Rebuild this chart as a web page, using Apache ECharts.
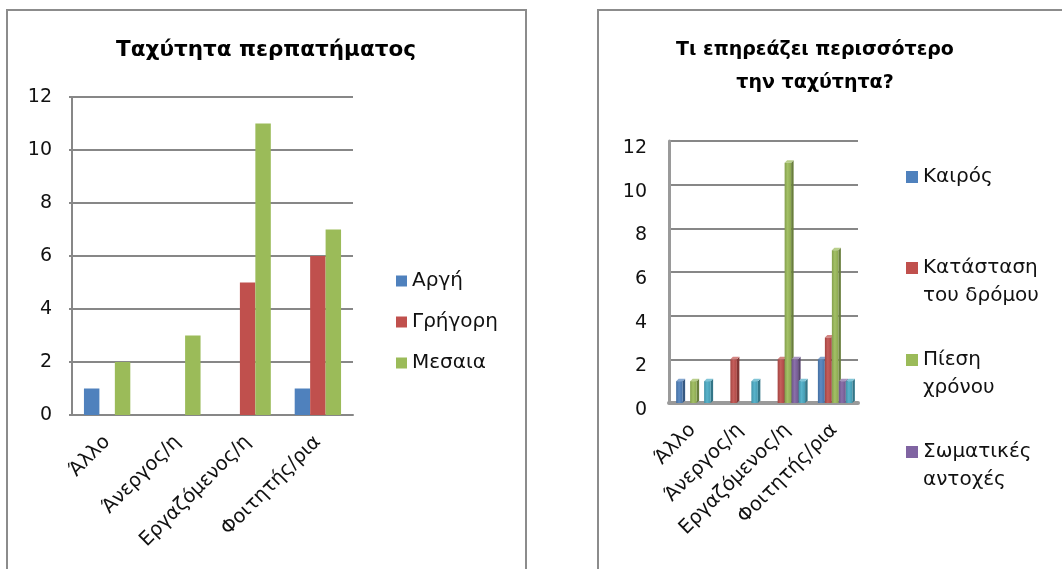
<!DOCTYPE html>
<html>
<head>
<meta charset="utf-8">
<script src="https://cdn.jsdelivr.net/npm/echarts@6/dist/echarts.min.js"></script>
<style>
  html, body { margin: 0; padding: 0; background: #ffffff; }
  #chart { width: 1062px; height: 569px; }
</style>
</head>
<body>
<div id="chart"></div>
<script>
// Occupation groups shared by both charts
const categories = ['Άλλο', 'Άνεργος/η', 'Εργαζόμενος/η', 'Φοιτητής/ρια'];

// Walking speed per group
const speedNames = ['Αργή', 'Γρήγορη', 'Μεσαια'];
const slowValues = [1, 0, 0, 1];
const fastValues = [0, 0, 5, 6];
const mediumValues = [2, 3, 11, 7];

// What affects the speed most, per group
const factorNames = ['Καιρός', 'Κατάσταση του δρόμου', 'Πίεση χρόνου', 'Σωματικές αντοχές', 'Άλλο'];
const factorLegendLines = [['Καιρός'], ['Κατάσταση', 'του δρόμου'], ['Πίεση', 'χρόνου'], ['Σωματικές', 'αντοχές']];
const weatherValues = [1, 0, 0, 2];
const roadValues = [0, 2, 2, 3];
const timeValues = [1, 0, 11, 7];
const staminaValues = [0, 0, 2, 1];
const otherValues = [1, 1, 1, 1];

// Value axis ticks
const yMin = 0, yMax = 12, yStep = 2;

const FONT = 'DejaVu Sans';
const GRID_GREY = '#878787';
const colors = ['#4F81BD', '#C0504D', '#9BBB59', '#8064A2', '#4BACC6'];

function shade(hex, f) {
  const n = parseInt(hex.slice(1), 16);
  const ch = [(n >> 16) & 255, (n >> 8) & 255, n & 255].map(c =>
    Math.max(0, Math.min(255, Math.round(f < 1 ? c * f : c + (255 - c) * (f - 1)))));
  return 'rgb(' + ch.join(',') + ')';
}

// Column with a small depth face, placed in its slot within the category band
function column3D(slotIndex, slotCount, color) {
  return function (params, api) {
    const c = api.value(0);
    const v = api.value(1);
    if (!v) return null;
    const base = api.coord([c, 0]);
    const top = api.coord([c, v]);
    const band = api.size([1, 0])[0];
    const slot = band * 0.148;
    const x = base[0] - slot * slotCount / 2 + slotIndex * slot + 1;
    const w = slot - 0.5;
    const d = 2.5;
    return {
      type: 'group',
      children: [
        {
          type: 'polygon',
          shape: { points: [[x + w, top[1]], [x + w + d, top[1] - d], [x + w + d, base[1] - d], [x + w, base[1]]] },
          style: { fill: shade(color, 0.68) }
        },
        {
          type: 'polygon',
          shape: { points: [[x, top[1]], [x + d, top[1] - d], [x + w + d, top[1] - d], [x + w, top[1]]] },
          style: { fill: shade(color, 1.3) }
        },
        {
          type: 'rect',
          shape: { x: x, y: top[1], width: w, height: base[1] - top[1] },
          style: {
            fill: new echarts.graphic.LinearGradient(0, 0, 1, 0, [
              { offset: 0, color: shade(color, 0.85) },
              { offset: 0.45, color: shade(color, 1.08) },
              { offset: 1, color: shade(color, 0.9) }
            ])
          }
        }
      ]
    };
  };
}

// Legend text: the first line sits level with the colour key, the rest wraps below it
function legendText(name) {
  const lines = factorLegendLines[factorNames.indexOf(name)];
  const pad = [];
  for (let i = 1; i < lines.length; i++) pad.push('');
  return pad.concat(lines).join('\n');
}

const chart = echarts.init(document.getElementById('chart'), null, { renderer: 'canvas' });

const factorValues = [weatherValues, roadValues, timeValues, staminaValues, otherValues];

const option = {
  animation: false,
  backgroundColor: '#ffffff',
  textStyle: { fontFamily: FONT },
  title: [
    {
      text: 'Ταχύτητα περπατήματος',
      left: 266, top: 34, padding: 0, textAlign: 'center',
      textStyle: { fontFamily: FONT, fontSize: 21.5, fontWeight: 'bold', color: '#000', lineHeight: 33 }
    },
    {
      text: 'Τι επηρεάζει περισσότερο\nτην ταχύτητα?',
      left: 815, top: 34, padding: 0, textAlign: 'center',
      textStyle: { fontFamily: FONT, fontSize: 19, fontWeight: 'bold', color: '#000', lineHeight: 33 }
    }
  ],
  legend: [
    {
      data: speedNames,
      orient: 'vertical', left: 396, top: 270, padding: 0,
      itemWidth: 11, itemHeight: 11, itemGap: 19, icon: 'rect',
      textStyle: { fontFamily: FONT, fontSize: 20, color: '#111', lineHeight: 22 }
    },
    {
      data: [factorNames[0]],
      orient: 'vertical', left: 906, top: 163, padding: 0,
      itemWidth: 12, itemHeight: 12, icon: 'rect',
      formatter: legendText,
      textStyle: { fontFamily: FONT, fontSize: 20, color: '#111', lineHeight: 28 }
    },
    {
      data: factorNames.slice(1, 4),
      orient: 'vertical', left: 906, top: 226, padding: 0,
      itemWidth: 12, itemHeight: 12, itemGap: 8, icon: 'rect',
      formatter: legendText,
      textStyle: { fontFamily: FONT, fontSize: 20, color: '#111', lineHeight: 28 }
    }
  ],
  grid: [
    { left: 72, top: 97, width: 281, height: 318 },
    { left: 669, top: 141, width: 189, height: 262 }
  ],
  xAxis: [
    {
      type: 'category', gridIndex: 0, data: categories,
      axisLine: { lineStyle: { color: GRID_GREY, width: 2 } },
      axisTick: { show: false },
      axisLabel: { rotate: 45, margin: 24, fontFamily: FONT, fontSize: 19.5, color: '#111' }
    },
    {
      type: 'category', gridIndex: 1, data: categories,
      axisLine: { lineStyle: { color: '#9a9a9a', width: 4 } },
      axisTick: { show: false },
      axisLabel: { rotate: 45, margin: 24, fontFamily: FONT, fontSize: 19.5, color: '#111' }
    }
  ],
  yAxis: [
    {
      type: 'value', gridIndex: 0, min: yMin, max: yMax, interval: yStep,
      axisLine: { show: true, lineStyle: { color: GRID_GREY, width: 2 } },
      axisTick: { show: true, length: 3, lineStyle: { color: GRID_GREY, width: 2 } },
      splitLine: { lineStyle: { color: GRID_GREY, width: 2 } },
      axisLabel: { margin: 20, fontFamily: FONT, fontSize: 19, color: '#111' }
    },
    {
      type: 'value', gridIndex: 1, min: yMin, max: yMax, interval: yStep,
      axisLine: { show: true, lineStyle: { color: '#9a9a9a', width: 3 } },
      axisTick: { show: false },
      splitLine: { lineStyle: { color: GRID_GREY, width: 2 } },
      axisLabel: { margin: 22, verticalAlign: 'top', lineHeight: 14, fontFamily: FONT, fontSize: 19, color: '#111' }
    }
  ],
  series: [
    { name: speedNames[0], type: 'bar', xAxisIndex: 0, yAxisIndex: 0, data: slowValues,
      itemStyle: { color: colors[0] }, barGap: '0%', barCategoryGap: '34%' },
    { name: speedNames[1], type: 'bar', xAxisIndex: 0, yAxisIndex: 0, data: fastValues,
      itemStyle: { color: colors[1] }, barGap: '0%', barCategoryGap: '34%' },
    { name: speedNames[2], type: 'bar', xAxisIndex: 0, yAxisIndex: 0, data: mediumValues,
      itemStyle: { color: colors[2] }, barGap: '0%', barCategoryGap: '34%' }
  ].concat(factorNames.map((name, i) => ({
    name: name,
    type: 'custom',
    xAxisIndex: 1, yAxisIndex: 1,
    itemStyle: { color: colors[i] },
    encode: { x: 0, y: 1 },
    renderItem: column3D(i, factorNames.length, colors[i]),
    data: factorValues[i].map((v, c) => [c, v])
  }))),
  graphic: [
    { type: 'rect', shape: { x: 7, y: 10, width: 519, height: 620 },
      style: { fill: 'none', stroke: '#8c8c8c', lineWidth: 2 }, silent: true },
    { type: 'rect', shape: { x: 598, y: 10, width: 520, height: 620 },
      style: { fill: 'none', stroke: '#8c8c8c', lineWidth: 2 }, silent: true }
  ]
};

chart.setOption(option);
</script>
</body>
</html>
